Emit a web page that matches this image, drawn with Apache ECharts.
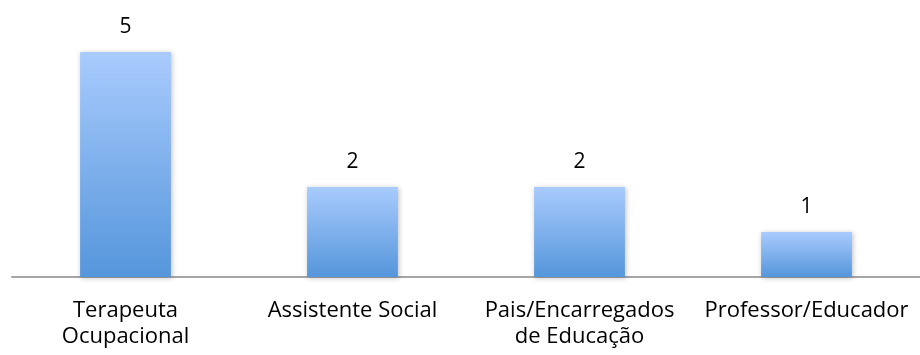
<!DOCTYPE html>
<html>
<head>
<meta charset="utf-8">
<script src="https://cdn.jsdelivr.net/npm/echarts@6/dist/echarts.min.js"></script>
<style>
  html, body { margin: 0; padding: 0; background: #ffffff; }
  #chart { width: 920px; height: 355px; }
</style>
</head>
<body>
<div id="chart"></div>
<script>
// Respondent roles and their counts
const categories = ['Terapeuta\nOcupacional', 'Assistente Social', 'Pais/Encarregados\nde Educação', 'Professor/Educador'];
const counts = [5, 2, 2, 1];

const chart = echarts.init(document.getElementById('chart'));
const fontFamily = '"Open Sans", "Noto Sans", sans-serif';

chart.setOption({
  animation: false,
  grid: { left: 12, right: 0, top: 52, bottom: 78, containLabel: false },
  xAxis: {
    type: 'category',
    data: categories,
    axisLine: { lineStyle: { color: '#a6a6a6', width: 2 } },
    axisTick: { show: false },
    axisLabel: {
      color: '#000000',
      fontFamily: fontFamily,
      fontSize: 22,
      lineHeight: 26,
      margin: 21,
      interval: 0
    }
  },
  yAxis: {
    type: 'value',
    min: 0,
    max: 5,
    show: false,
    splitLine: { show: false }
  },
  series: [{
    type: 'bar',
    data: counts,
    barWidth: '40%',
    itemStyle: {
      color: new echarts.graphic.LinearGradient(0, 0, 0, 1, [
        { offset: 0, color: '#a9cbfd' },
        { offset: 1, color: '#5596db' }
      ]),
      shadowColor: 'rgba(0,0,0,0.25)',
      shadowBlur: 5,
      shadowOffsetX: 1,
      shadowOffsetY: 1
    },
    label: {
      show: true,
      position: 'top',
      distance: 14,
      color: '#000000',
      fontFamily: fontFamily,
      fontSize: 21
    }
  }]
});
</script>
</body>
</html>
